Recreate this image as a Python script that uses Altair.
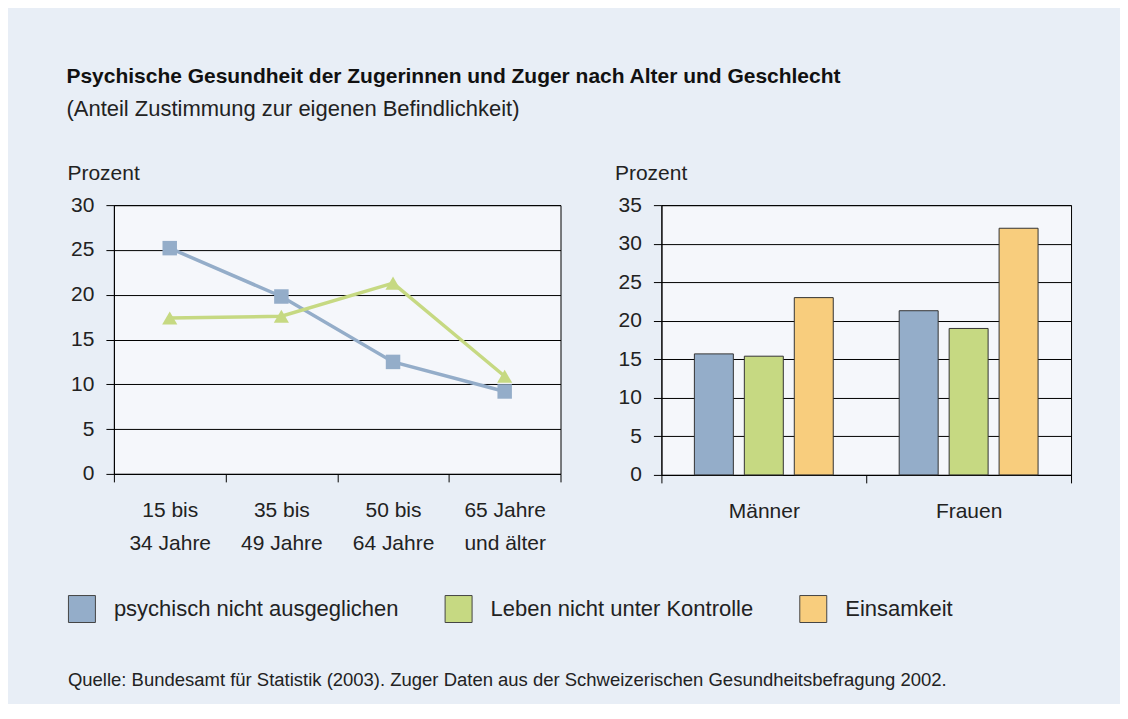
import altair as alt
import pandas as pd

# ---- data ----
ages = ["15 bis\n34 Jahre", "35 bis\n49 Jahre", "50 bis\n64 Jahre", "65 Jahre\nund älter"]
series = ["psychisch nicht ausgeglichen", "Leben nicht unter Kontrolle", "Einsamkeit"]
line_ausgeglichen = [25.2, 19.8, 12.5, 9.2]
line_kontrolle = [17.4, 17.6, 21.3, 10.9]
sexes = ["Männer", "Frauen"]
bar_maenner = [15.7, 15.4, 23.0]
bar_frauen = [21.3, 19.0, 32.0]
colors = ["#94adc9", "#c6d982", "#f8cd7d"]

title_text = "Psychische Gesundheit der Zugerinnen und Zuger nach Alter und Geschlecht"
subtitle_text = "(Anteil Zustimmung zur eigenen Befindlichkeit)"
source_text = "Quelle: Bundesamt für Statistik (2003). Zuger Daten aus der Schweizerischen Gesundheitsbefragung 2002."

FONT = "Liberation Sans"
TXT = "#222222"
FS = 21

line_df = pd.DataFrame(
    [{"age": a, "series": series[0], "value": v} for a, v in zip(ages, line_ausgeglichen)]
    + [{"age": a, "series": series[1], "value": v} for a, v in zip(ages, line_kontrolle)]
)
bar_df = pd.DataFrame(
    [{"sex": sexes[0], "series": s, "value": v} for s, v in zip(series, bar_maenner)]
    + [{"sex": sexes[1], "series": s, "value": v} for s, v in zip(series, bar_frauen)]
)

color_scale = alt.Scale(domain=series, range=colors)

def y_axis(values):
    return alt.Axis(
        values=values, title="Prozent", titleAngle=0, titleAlign="left",
        titleBaseline="alphabetic", titleX=-47, titleY=-26, titleFontSize=FS,
        titleFontWeight="normal", titleColor=TXT, titleFont=FONT,
        grid=True, gridColor="#000000", gridWidth=1, gridOpacity=1,
        domainColor="#000000", tickColor="#000000", tickSize=8,
        labelFontSize=FS, labelColor=TXT, labelFont=FONT, labelPadding=12,
    )

x_age = alt.X(
    "age:N", sort=ages, title=None,
    scale=alt.Scale(paddingInner=0, paddingOuter=0),
    axis=alt.Axis(
        labelAngle=0, labelExpr="split(datum.label, '\\n')", labelFontSize=FS,
        labelColor=TXT, labelFont=FONT, labelLineHeight=33, labelPadding=18,
        tickBand="extent", tickSize=8, tickColor="#000000", domainColor="#000000",
        grid=False, labelBaseline="top",
    ),
)
y_line = alt.Y("value:Q", scale=alt.Scale(domain=[0, 30], nice=False),
               axis=y_axis([0, 5, 10, 15, 20, 25, 30]))

base = alt.Chart(line_df)
s0 = base.transform_filter(alt.datum.series == series[0])
s1 = base.transform_filter(alt.datum.series == series[1])
line0 = s0.mark_line(strokeWidth=3.5, color=colors[0]).encode(x=x_age, y=y_line)
line1 = s1.mark_line(strokeWidth=3.5, color=colors[1]).encode(x=x_age, y=y_line)
pts0 = s0.mark_point(filled=True, opacity=1, size=210, shape="square", color=colors[0]).encode(x=x_age, y=y_line)
pts1 = s1.mark_point(filled=True, opacity=1, size=230, shape="triangle-up", color=colors[1]).encode(x=x_age, y=y_line)
left = alt.layer(line0, line1, pts0, pts1).properties(width=447, height=269)

bars = alt.Chart(bar_df).mark_bar(stroke="#333333", strokeWidth=1).encode(
    x=alt.X("sex:N", sort=sexes, title=None,
            scale=alt.Scale(paddingInner=0, paddingOuter=0),
            axis=alt.Axis(labelAngle=0, labelFontSize=FS, labelColor=TXT, labelFont=FONT,
                          labelPadding=18, labelBaseline="top", tickBand="extent", tickSize=8,
                          tickColor="#000000", domainColor="#000000", grid=False)),
    xOffset=alt.XOffset("series:N", sort=series,
                        scale=alt.Scale(paddingInner=0.22, paddingOuter=0.66)),
    y=alt.Y("value:Q", scale=alt.Scale(domain=[0, 35], nice=False),
            axis=y_axis([0, 5, 10, 15, 20, 25, 30, 35])),
    color=alt.Color(
        "series:N", scale=color_scale, sort=series,
        legend=alt.Legend(
            title=source_text, orient="none", direction="horizontal", columns=3,
            legendX=-46, legendY=390,
            symbolType="square", symbolSize=729, symbolStrokeColor="#444444",
            symbolStrokeWidth=1, symbolOpacity=1,
            labelFontSize=22, labelFont=FONT, labelColor=TXT, labelOffset=18,
            labelLimit=600, columnPadding=44,
            titleOrient="bottom", titleAnchor="start", titleFontSize=18.5,
            titleFontWeight="normal", titleFont=FONT, titleColor=TXT,
            titlePadding=46, titleLimit=1100,
        ),
    ),
).properties(width=410, height=270)

chart = alt.hconcat(left, bars, spacing=52).properties(
    title=alt.TitleParams(
        text=title_text, subtitle=subtitle_text, anchor="start",
        fontSize=21, fontWeight="bold", font=FONT, color="#111111",
        subtitleFontSize=22, subtitleFont=FONT, subtitleColor=TXT,
        subtitlePadding=12, offset=42,
    ),
    background="#e8eef6",
    padding={"left": 58, "top": 57, "right": 48, "bottom": 14},
).configure_view(
    fill="#f5f7fb", stroke="#000000", strokeWidth=1,
).configure_axis(
    domainWidth=1, tickWidth=1,
)

chart.save("out.html", embed_options={"renderer": "svg", "actions": False})
